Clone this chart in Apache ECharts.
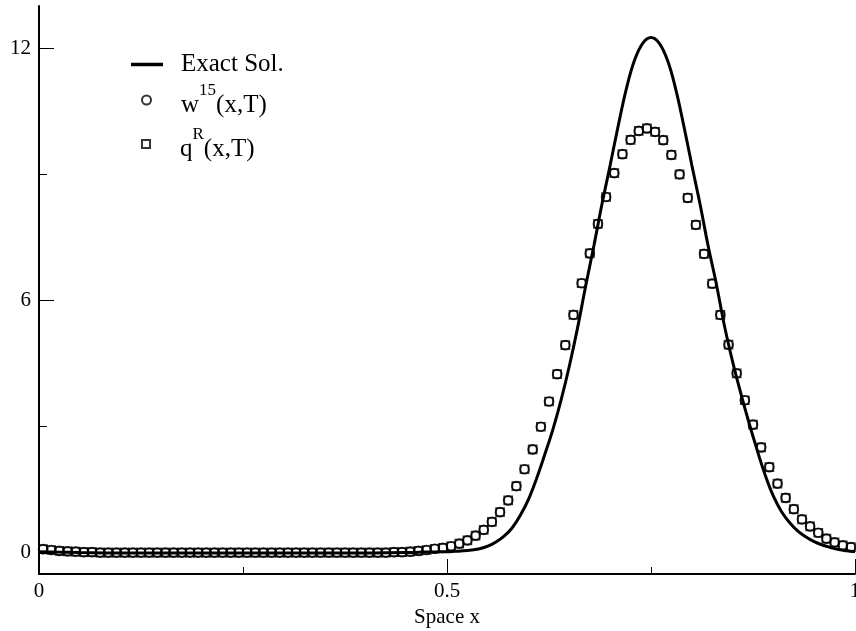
<!DOCTYPE html>
<html>
<head>
<meta charset="utf-8">
<script src="https://cdn.jsdelivr.net/npm/echarts@6/dist/echarts.min.js"></script>
<style>html,body{margin:0;padding:0;background:#fff}#c{width:856px;height:631px}</style>
</head>
<body>
<div id="c"></div>
<script>
// ---- data ----
const exactX = [0, 0.02, 0.05, 0.1, 0.2, 0.3, 0.4, 0.45, 0.46, 0.47, 0.48, 0.49, 0.50, 0.51, 0.52, 0.53, 0.54, 0.55, 0.56, 0.57, 0.58, 0.59, 0.60, 0.61, 0.62, 0.63, 0.64, 0.65, 0.66, 0.67, 0.68, 0.69, 0.70, 0.71, 0.72, 0.73, 0.74, 0.75, 0.76, 0.77, 0.78, 0.79, 0.80, 0.81, 0.82, 0.83, 0.84, 0.85, 0.86, 0.87, 0.88, 0.89, 0.90, 0.91, 0.92, 0.93, 0.94, 0.95, 0.96, 0.97, 0.98, 0.99, 1.00];
const exactY = [0.03, 0.02, 0.01, 0.0, 0.0, 0.0, 0.0, 0.01, 0.01, 0.02, 0.02, 0.03, 0.03, 0.04, 0.05, 0.07, 0.10, 0.16, 0.26, 0.40, 0.60, 0.90, 1.28, 1.78, 2.35, 2.95, 3.65, 4.45, 5.35, 6.35, 7.30, 8.30, 9.22, 10.17, 11.05, 11.72, 12.12, 12.25, 12.12, 11.72, 11.05, 10.17, 9.22, 8.30, 7.30, 6.40, 5.40, 4.55, 3.80, 3.10, 2.45, 1.85, 1.35, 0.98, 0.72, 0.52, 0.38, 0.27, 0.19, 0.13, 0.08, 0.05, 0.03];

const cellX = [0.005, 0.015, 0.025, 0.035, 0.045, 0.055, 0.065, 0.075, 0.085, 0.095,
  0.105, 0.115, 0.125, 0.135, 0.145, 0.155, 0.165, 0.175, 0.185, 0.195,
  0.205, 0.215, 0.225, 0.235, 0.245, 0.255, 0.265, 0.275, 0.285, 0.295,
  0.305, 0.315, 0.325, 0.335, 0.345, 0.355, 0.365, 0.375, 0.385, 0.395,
  0.405, 0.415, 0.425, 0.435, 0.445, 0.455, 0.465, 0.475, 0.485, 0.495,
  0.505, 0.515, 0.525, 0.535, 0.545, 0.555, 0.565, 0.575, 0.585, 0.595,
  0.605, 0.615, 0.625, 0.635, 0.645, 0.655, 0.665, 0.675, 0.685, 0.695,
  0.705, 0.715, 0.725, 0.735, 0.745, 0.755, 0.765, 0.775, 0.785, 0.795,
  0.805, 0.815, 0.825, 0.835, 0.845, 0.855, 0.865, 0.875, 0.885, 0.895,
  0.905, 0.915, 0.925, 0.935, 0.945, 0.955, 0.965, 0.975, 0.985, 0.995];
const wY = [0.09, 0.07, 0.05, 0.04, 0.03, 0.02, 0.02, 0.01, 0.01, 0.01,
  0.01, 0.01, 0.01, 0.01, 0.01, 0.01, 0.01, 0.01, 0.01, 0.01,
  0.01, 0.01, 0.01, 0.01, 0.01, 0.01, 0.01, 0.01, 0.01, 0.01,
  0.01, 0.01, 0.01, 0.01, 0.01, 0.01, 0.01, 0.01, 0.01, 0.01,
  0.01, 0.01, 0.01, 0.02, 0.02, 0.03, 0.05, 0.07, 0.10, 0.12,
  0.16, 0.22, 0.30, 0.41, 0.55, 0.74, 0.97, 1.25, 1.59, 1.99,
  2.46, 3.00, 3.60, 4.25, 4.94, 5.66, 6.41, 7.12, 7.82, 8.46,
  9.03, 9.48, 9.82, 10.03, 10.09, 10.01, 9.81, 9.46, 9.00, 8.44,
  7.80, 7.11, 6.40, 5.66, 4.95, 4.27, 3.63, 3.05, 2.51, 2.04,
  1.65, 1.31, 1.04, 0.80, 0.63, 0.48, 0.34, 0.25, 0.18, 0.14];
const qY = wY.slice();

const xTicks = [0, 0.5, 1];
const yTicks = [0, 6, 12];
const yMinorTicks = [3, 9];

const FONT = '"Liberation Serif", "DejaVu Serif", serif';
const pairs = (xs, ys) => xs.map((x, i) => [x, ys[i]]);

const supRich = {
  sp: { width: 25 },
  b: { fontFamily: FONT, fontSize: 25, color: '#000', verticalAlign: 'bottom', lineHeight: 36 },
  s: { fontFamily: FONT, fontSize: 17, color: '#000', verticalAlign: 'top', lineHeight: 16 }
};

const chart = echarts.init(document.getElementById('c'), null, { renderer: 'canvas' });
chart.setOption({
  animation: false,
  backgroundColor: '#fff',
  grid: { left: 39, right: 1, top: 6, bottom: 57, containLabel: false, outerBoundsMode: 'none' },
  xAxis: {
    type: 'value', min: 0, max: 1, interval: 0.5,
    name: 'Space x', nameLocation: 'middle', nameGap: 27,
    nameTextStyle: { fontFamily: FONT, fontSize: 21, color: '#000' },
    axisLine: { show: true, onZero: false, lineStyle: { color: '#000', width: 2 } },
    axisTick: { show: true, inside: true, length: 15, lineStyle: { color: '#000', width: 1 } },
    minorTick: { show: true, splitNumber: 2, length: 7, lineStyle: { color: '#000', width: 1 } },
    axisLabel: { fontFamily: FONT, fontSize: 21, color: '#000', margin: 7,
      formatter: v => xTicks.indexOf(v) >= 0 ? String(v) : '' },
    splitLine: { show: false }, minorSplitLine: { show: false }
  },
  yAxis: [{
    type: 'value', min: -0.5, max: 13,
    axisLine: { show: true, onZero: false, lineStyle: { color: '#000', width: 2 } },
    axisTick: { show: true, inside: true, length: 15, customValues: yTicks, lineStyle: { color: '#000', width: 1 } },
    axisLabel: { fontFamily: FONT, fontSize: 21, color: '#000', margin: 8, customValues: yTicks },
    splitLine: { show: false }
  }, {
    type: 'value', min: -0.5, max: 13, position: 'left',
    axisLine: { show: false },
    axisTick: { show: true, inside: true, length: 8, customValues: yMinorTicks, lineStyle: { color: '#000', width: 1 } },
    axisLabel: { show: false },
    splitLine: { show: false }
  }],
  legend: [
    { data: [{ name: 'Exact Sol.', icon: 'rect' }], left: 126, top: 47, itemWidth: 32, itemHeight: 3.5,
      formatter: n => '{sp|}{b|' + n + '}',
      textStyle: { rich: { sp: { width: 13 }, b: { fontFamily: FONT, fontSize: 25, color: '#000' } } } },
    { data: ['w15'], left: 136, top: 77, itemWidth: 9, itemHeight: 9,
      formatter: () => '{sp|}{b|w}{s|15}{b|(x,T)}',
      textStyle: { rich: supRich } },
    { data: ['qR'], left: 136, top: 121, itemWidth: 8, itemHeight: 8,
      formatter: () => '{sp|}{b|q}{s|R}{b|(x,T)}',
      textStyle: { rich: supRich } }
  ],
  series: [
    { name: 'Exact Sol.', type: 'line', data: pairs(exactX, exactY), smooth: 0.4,
      symbol: 'none', lineStyle: { color: '#000', width: 3 }, itemStyle: { color: '#000' }, z: 2 },
    { name: 'w15', type: 'scatter', data: pairs(cellX, wY), symbol: 'circle', symbolSize: 9,
      itemStyle: { color: 'rgba(0,0,0,0)', borderColor: '#000', borderWidth: 1.7 }, z: 3 },
    { name: 'qR', type: 'scatter', data: pairs(cellX, qY), symbol: 'rect', symbolSize: 8,
      itemStyle: { color: 'rgba(0,0,0,0)', borderColor: '#000', borderWidth: 1.7 }, z: 3 }
  ]
});
</script>
</body>
</html>
